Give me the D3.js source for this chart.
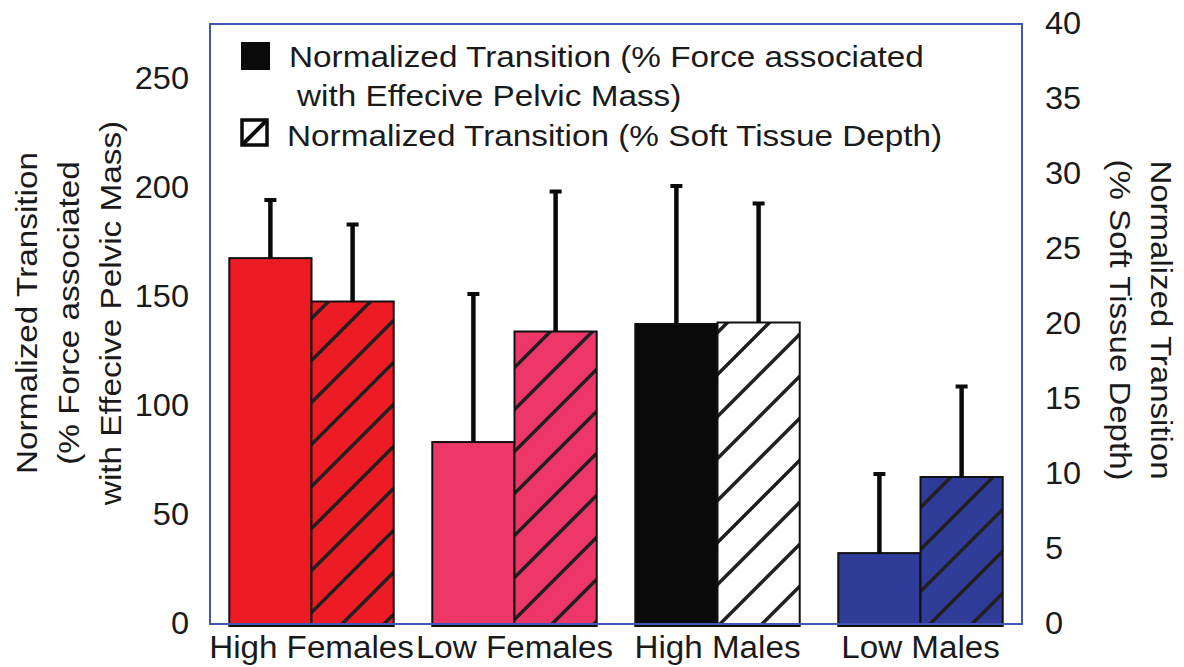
<!DOCTYPE html>
<html>
<head>
<meta charset="utf-8">
<script src="https://cdn.jsdelivr.net/npm/d3@7"></script>
<style>
  body { margin: 0; background: #fff; }
  svg { display: block; font-family: "Liberation Sans", Arial, sans-serif; }
</style>
</head>
<body>
<div id="graph"></div>
<script>
const categories = ['High Females', 'Low Females', 'High Males', 'Low Males']
const forceValues = [167.7, 83.4, 137.5, 32.5]
const forceErrors = [194.8, 151.7, 201.2, 69.2]
const tissueValues = [21.5, 19.5, 20.1, 9.8]
const tissueErrors = [26.7, 28.9, 28.1, 15.9]
const leftTicks = [0, 50, 100, 150, 200, 250]
const rightTicks = [0, 5, 10, 15, 20, 25, 30, 35, 40]
const colors = ['#ed1c24', '#ee3769', '#0a0a0a', '#2f3c98']
const hatchBg = ['#ed1c24', '#ee3769', '#ffffff', '#2f3c98']

const width = 1184
const height = 667
const m = {left: 210, right: 1022, top: 24, bottom: 624}

const svg = d3.select('#graph').append('svg')
  .attr('width', width)
  .attr('height', height)

// the original lettering is a bit wider than Liberation Sans
const stretch = (sel, k) => sel.each(function () {
  const len = this.getComputedTextLength()
  d3.select(this).attr('textLength', len * k).attr('lengthAdjust', 'spacingAndGlyphs')
})

const x = d3.scaleBand()
  .domain(categories)
  .range([m.left, m.right])
  .paddingInner(0.19)
  .paddingOuter(0.095)

const yL = d3.scaleLinear().domain([0, 275]).range([m.bottom, m.top])
const yR = d3.scaleLinear().domain([0, 40]).range([m.bottom, m.top])
const bw = x.bandwidth() / 2

// hatch patterns, one per bar colour
const defs = svg.append('defs')
hatchBg.forEach((c, i) => {
  const p = defs.append('pattern')
    .attr('id', 'hatch' + i)
    .attr('patternUnits', 'userSpaceOnUse')
    .attr('width', 42)
    .attr('height', 42)
  p.append('rect').attr('width', 42).attr('height', 42).attr('fill', c)
  p.append('path')
    .attr('d', 'M-6,6 L6,-6 M0,42 L42,0 M36,48 L48,36')
    .attr('stroke', '#231f20')
    .attr('stroke-width', 3.5)
})

const g = svg.append('g')

// solid bars (left axis)
g.selectAll('.solid').data(categories).join('rect')
  .attr('class', 'solid')
  .attr('x', d => x(d))
  .attr('y', (d, i) => yL(forceValues[i]))
  .attr('width', bw)
  .attr('height', (d, i) => m.bottom + 2 - yL(forceValues[i]))
  .attr('fill', (d, i) => colors[i])
  .attr('stroke', '#111')
  .attr('stroke-width', 2)

// hatched bars (right axis)
g.selectAll('.hatched').data(categories).join('rect')
  .attr('class', 'hatched')
  .attr('x', d => x(d) + bw)
  .attr('y', (d, i) => yR(tissueValues[i]))
  .attr('width', bw)
  .attr('height', (d, i) => m.bottom + 2 - yR(tissueValues[i]))
  .attr('fill', (d, i) => `url(#hatch${i})`)
  .attr('stroke', '#111')
  .attr('stroke-width', 2)

// error bars
const errs = []
categories.forEach((c, i) => {
  errs.push({cx: x(c) + bw / 2, y0: yL(forceValues[i]), y1: yL(forceErrors[i])})
  errs.push({cx: x(c) + bw * 1.5, y0: yR(tissueValues[i]), y1: yR(tissueErrors[i])})
})
g.selectAll('.stem').data(errs).join('line')
  .attr('x1', d => d.cx).attr('x2', d => d.cx)
  .attr('y1', d => d.y0).attr('y2', d => d.y1)
  .attr('stroke', '#0a0a0a')
  .attr('stroke-width', 4.5)
g.selectAll('.cap').data(errs).join('rect')
  .attr('x', d => d.cx - 6)
  .attr('y', d => d.y1 - 1)
  .attr('width', 12)
  .attr('height', 4)
  .attr('fill', '#0a0a0a')

// frame
svg.append('rect')
  .attr('x', m.left).attr('y', m.top)
  .attr('width', m.right - m.left).attr('height', m.bottom - m.top)
  .attr('fill', 'none')
  .attr('stroke', '#4455b5')
  .attr('stroke-width', 2)

// axes (labels only)
const axL = svg.append('g')
  .attr('transform', `translate(${m.left},0)`)
  .call(d3.axisLeft(yL).tickValues(leftTicks).tickSize(0).tickPadding(21))
const axR = svg.append('g')
  .attr('transform', `translate(${m.right},0)`)
  .call(d3.axisRight(yR).tickValues(rightTicks).tickSize(0).tickPadding(23))
const axB = svg.append('g')
  .attr('transform', `translate(0,${m.bottom})`)
  .call(d3.axisBottom(x).tickSize(0).tickPadding(12))
;[axL, axR, axB].forEach(a => {
  a.select('.domain').remove()
  a.selectAll('text')
    .attr('font-family', '"Liberation Sans", Arial, sans-serif')
    .attr('font-size', 31)
    .attr('fill', '#1a1a1a')
})
stretch(axL.selectAll('text'), 1.05)
stretch(axR.selectAll('text'), 1.05)
stretch(axB.selectAll('text'), 1.07)

// axis titles
const leftTitle = ['Normalized Transition', '(% Force associated', 'with Effecive Pelvic Mass)']
const lt = svg.append('text')
  .attr('transform', 'translate(37,313) rotate(-90)')
  .attr('text-anchor', 'middle')
  .attr('font-size', 30)
  .attr('fill', '#1a1a1a')
  .selectAll('tspan').data(leftTitle).join('tspan')
  .attr('x', 0)
  .attr('y', (d, i) => i * 42)
  .text(d => d)
stretch(lt, 1.11)

const rightTitle = ['Normalized Transition', '(% Soft Tissue Depth)']
const rt = svg.append('text')
  .attr('transform', 'translate(1151,320) rotate(90)')
  .attr('text-anchor', 'middle')
  .attr('font-size', 30)
  .attr('fill', '#1a1a1a')
  .selectAll('tspan').data(rightTitle).join('tspan')
  .attr('x', 0)
  .attr('y', (d, i) => i * 41)
  .text(d => d)
stretch(rt, 1.1)

// legend
const lg = svg.append('g').attr('font-size', 30).attr('fill', '#1a1a1a')
lg.append('rect').attr('x', 241).attr('y', 42).attr('width', 29).attr('height', 28).attr('fill', '#0a0a0a')
lg.append('text').attr('x', 289).attr('y', 67).text('Normalized Transition (% Force associated')
lg.append('text').attr('x', 297).attr('y', 106).text('with Effecive Pelvic Mass)')
lg.append('rect').attr('x', 242).attr('y', 120).attr('width', 25).attr('height', 25)
  .attr('fill', '#fff').attr('stroke', '#0a0a0a').attr('stroke-width', 3.5)
lg.append('line').attr('x1', 243).attr('y1', 144).attr('x2', 266).attr('y2', 121)
  .attr('stroke', '#0a0a0a').attr('stroke-width', 4)
lg.append('text').attr('x', 287).attr('y', 146).text('Normalized Transition (% Soft Tissue Depth)')
stretch(lg.selectAll('text'), 1.11)
</script>
</body>
</html>
